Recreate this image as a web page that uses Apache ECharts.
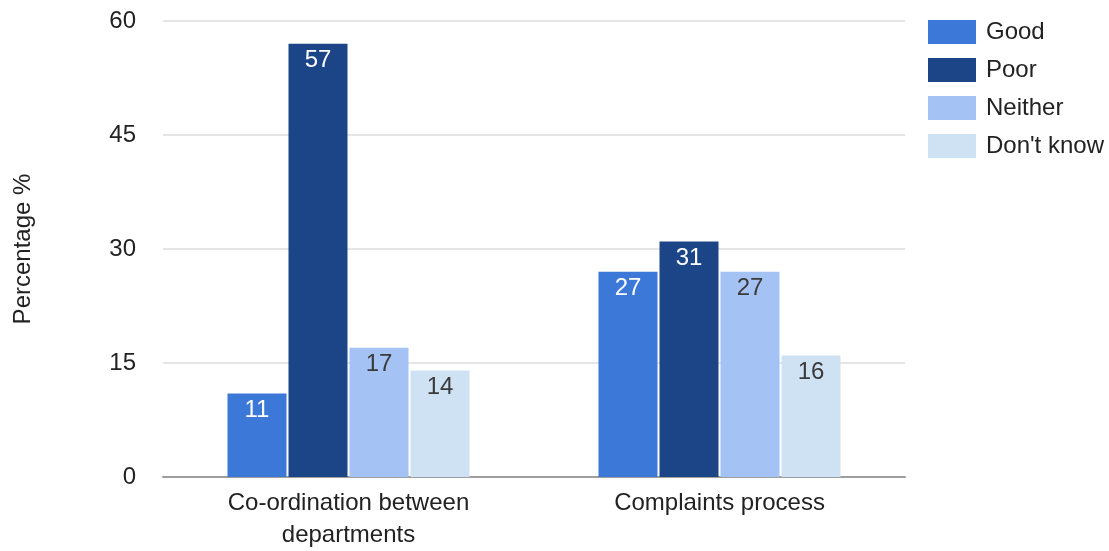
<!DOCTYPE html>
<html>
<head>
<meta charset="utf-8">
<script src="https://cdn.jsdelivr.net/npm/echarts@6/dist/echarts.min.js"></script>
<style>
  html, body { margin: 0; padding: 0; background: #fff; }
  #chart { width: 1109px; height: 551px; }
</style>
</head>
<body>
<div id="chart"></div>
<script>
// Survey ratings per topic (percentage of respondents)
const categories = ['Co-ordination between\ndepartments', 'Complaints process'];
const seriesNames = ['Good', 'Poor', 'Neither', "Don't know"];
const good = [11, 27];
const poor = [57, 31];
const neither = [17, 27];
const dontKnow = [14, 16];
const yTicks = [0, 15, 30, 45, 60];

const colors = ['#3c78d8', '#1c4587', '#a4c2f4', '#cfe2f3'];
const labelColors = ['#ffffff', '#ffffff', '#3a3a3a', '#3a3a3a'];
const FONT = '"Liberation Sans", Arial, sans-serif';

const values = [good, poor, neither, dontKnow];

const chart = echarts.init(document.getElementById('chart'), null, { renderer: 'canvas' });

chart.setOption({
  animation: false,
  textStyle: { fontFamily: FONT },
  color: colors,
  grid: { left: 163, right: 204, top: 21, bottom: 73 },
  legend: {
    orient: 'vertical',
    left: 928,
    top: 20,
    padding: 0,
    itemWidth: 48,
    itemHeight: 24,
    itemGap: 14,
    icon: 'rect',
    data: seriesNames,
    textStyle: { fontSize: 24, color: '#222', fontFamily: FONT, padding: [0, 0, 0, 5] }
  },
  xAxis: {
    type: 'category',
    data: categories,
    axisTick: { show: false },
    axisLine: { lineStyle: { color: '#9e9e9e', width: 2 } },
    axisLabel: {
      fontSize: 24,
      color: '#222',
      lineHeight: 32,
      margin: 10,
      fontFamily: FONT
    }
  },
  yAxis: {
    type: 'value',
    min: yTicks[0],
    max: yTicks[yTicks.length - 1],
    interval: 15,
    name: 'Percentage %',
    nameLocation: 'middle',
    nameGap: 128,
    nameTextStyle: { fontSize: 24, color: '#222', fontFamily: FONT },
    axisLine: { show: false },
    axisTick: { show: false },
    axisLabel: { fontSize: 24, color: '#222', margin: 27, fontFamily: FONT },
    splitLine: { lineStyle: { color: '#dcdcdc', width: 1.5 } }
  },
  series: seriesNames.map((name, i) => ({
    name: name,
    type: 'bar',
    data: values[i],
    barWidth: 59,
    barGap: '3.4%',
    itemStyle: { color: colors[i] },
    label: {
      show: true,
      position: 'insideTop',
      distance: 5,
      fontSize: 24,
      color: labelColors[i],
      fontFamily: FONT
    }
  }))
});
</script>
</body>
</html>
